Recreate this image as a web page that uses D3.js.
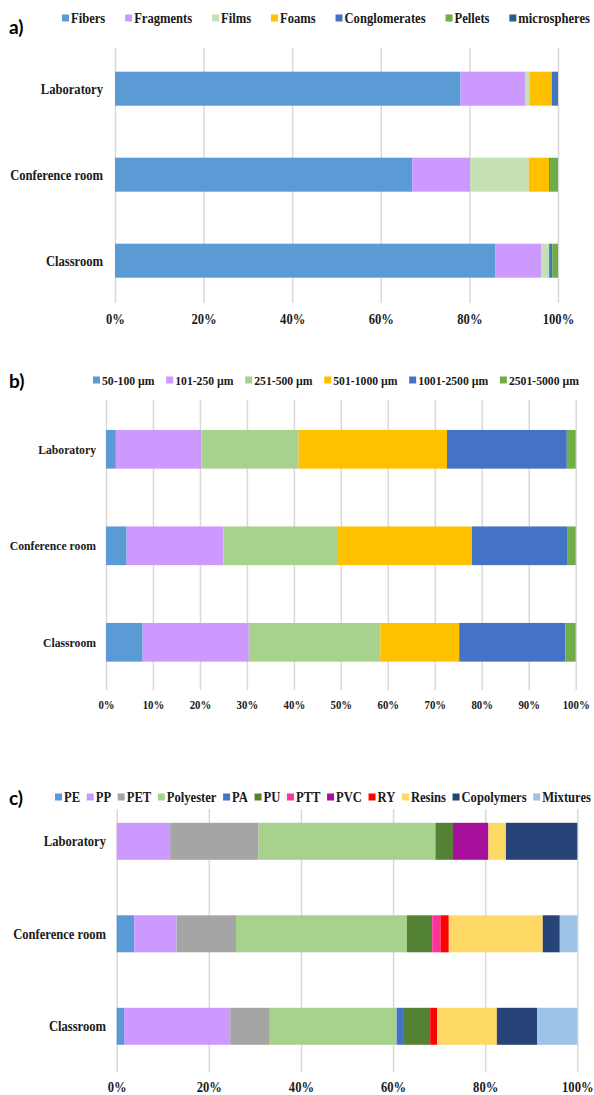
<!DOCTYPE html>
<html>
<head>
<meta charset="utf-8">
<script src="https://cdn.jsdelivr.net/npm/d3@7"></script>
<style>
  body { margin: 0; background: #fff; }
  .serif { font-family: "Liberation Serif", "Times New Roman", Times, serif; font-weight: bold; fill: #1a1a1a; }
  .panel-tag { font-family: Lato, "Open Sans", sans-serif; font-weight: bold; fill: #000; }
</style>
</head>
<body>
<div id="chart"></div>
<script>
// rooms, same order in all three panels (top to bottom)
var rooms = ["Laboratory", "Conference room", "Classroom"];

// a) shapes, % of particles
var shapeKeys = ["Fibers", "Fragments", "Films", "Foams", "Conglomerates", "Pellets", "microspheres"];
var shapeColors = ["#5b9bd5", "#cc99ff", "#c5e0b4", "#ffc000", "#4472c4", "#70ad47", "#255e91"];
var shapeLab   = [78.0, 14.6, 1.0, 5.0, 1.4, 0.0, 0.0];
var shapeConf  = [67.1, 13.1, 13.2, 4.6, 0.2, 1.7, 0.1];
var shapeClass = [85.8, 10.4, 1.8, 0.0, 0.7, 1.2, 0.1];

// b) size classes
var sizeKeys = ["50-100 µm", "101-250 µm", "251-500 µm", "501-1000 µm", "1001-2500 µm", "2501-5000 µm"];
var sizeColors = ["#5b9bd5", "#cc99ff", "#a9d18e", "#ffc000", "#4472c4", "#70ad47"];
var sizeLab   = [2.1, 18.2, 20.7, 31.6, 25.5, 1.9];
var sizeConf  = [4.4, 20.6, 24.4, 28.5, 20.4, 1.7];
var sizeClass = [7.8, 22.6, 28.0, 16.8, 22.6, 2.2];

// c) polymer types
var polyKeys = ["PE", "PP", "PET", "Polyester", "PA", "PU", "PTT", "PVC", "RY", "Resins", "Copolymers", "Mixtures"];
var polyColors = ["#5b9bd5", "#cc99ff", "#a5a5a5", "#a9d18e", "#4472c4", "#548235", "#ff3399", "#a50f9a", "#ff0000", "#ffd966", "#264478", "#9dc3e6"];
var polyLab   = [0.0, 11.6, 19.2, 38.4, 0.0, 3.8, 0.0, 7.7, 0.0, 3.8, 15.5, 0.0];
var polyConf  = [3.8, 9.2, 12.9, 37.1, 0.0, 5.5, 1.8, 0.0, 1.8, 20.4, 3.7, 3.8];
var polyClass = [1.6, 23.1, 8.6, 27.6, 1.4, 5.9, 0.0, 0.0, 1.5, 13.0, 8.8, 8.7];

var pctTicksA = [0, 0.2, 0.4, 0.6, 0.8, 1];
var pctTicksB = [0, 0.1, 0.2, 0.3, 0.4, 0.5, 0.6, 0.7, 0.8, 0.9, 1];

var W = 594, H = 1095;
var SX = 0.9; // the original text is a little condensed

var svg = d3.select("#chart").append("svg")
  .attr("width", W)
  .attr("height", H);

// turn the per-room arrays into rows d3.stack can use
function toRows(keys, lists) {
  return rooms.map(function(room, i) {
    var row = { room: room };
    keys.forEach(function(k, j) { row[k] = lists[i][j]; });
    return row;
  });
}

var panels = [
  { tag: "a)", keys: shapeKeys, colors: shapeColors, rows: toRows(shapeKeys, [shapeLab, shapeConf, shapeClass]),
    ticks: pctTicksA, tagY: 34, legendY: 18, legendX0: 62, legendX1: 590, legendFont: 14,
    x0: 115, x1: 558, gridTop: 48, gridBottom: 303, c0: 88.7, step: 86, barH: 34, tickY: 319, catX: 103, catFont: 14, tickFont: 14 },
  { tag: "b)", keys: sizeKeys, colors: sizeColors, rows: toRows(sizeKeys, [sizeLab, sizeConf, sizeClass]),
    ticks: pctTicksB, tagY: 388, legendY: 380, legendX0: 93, legendX1: 579, legendFont: 13,
    x0: 106, x1: 575.7, gridTop: 400, gridBottom: 690, c0: 449.3, step: 96.5, barH: 38.7, tickY: 705, catX: 96, catFont: 13, tickFont: 12 },
  { tag: "c)", keys: polyKeys, colors: polyColors, rows: toRows(polyKeys, [polyLab, polyConf, polyClass]),
    ticks: pctTicksA, tagY: 805, legendY: 797, legendX0: 55, legendX1: 591, legendFont: 14,
    x0: 116.7, x1: 577.3, gridTop: 809, gridBottom: 1072, c0: 841.3, step: 92.5, barH: 37, tickY: 1087, catX: 106, catFont: 14, tickFont: 14 }
];

panels.forEach(drawPanel);

function drawPanel(p) {
  var g = svg.append("g");

  var x = d3.scaleLinear().domain([0, 1]).range([p.x0, p.x1]);
  var pad = 1 - p.barH / p.step;
  var y = d3.scaleBand()
    .domain(rooms)
    .range([p.c0 - p.step / 2, p.c0 + p.step * 2.5])
    .paddingInner(pad)
    .paddingOuter(pad / 2);
  var color = d3.scaleOrdinal().domain(p.keys).range(p.colors);

  // vertical gridlines
  var grid = g.append("g")
    .attr("transform", "translate(0," + p.gridBottom + ")")
    .call(d3.axisBottom(x).tickValues(p.ticks).tickSize(-(p.gridBottom - p.gridTop)).tickFormat(""));
  grid.select(".domain").remove();
  grid.selectAll("line").attr("stroke", "#d9d9d9").attr("stroke-width", 1.5);

  // 100% stacked bars
  var series = d3.stack().keys(p.keys).offset(d3.stackOffsetExpand)(p.rows);
  g.append("g").selectAll("g")
    .data(series)
    .join("g")
      .attr("fill", function(d) { return color(d.key); })
    .selectAll("rect")
    .data(function(d) { return d; })
    .join("rect")
      .attr("x", function(d) { return x(d[0]); })
      .attr("width", function(d) { return Math.max(0, x(d[1]) - x(d[0])); })
      .attr("y", function(d) { return y(d.data.room); })
      .attr("height", y.bandwidth());

  // % tick labels
  var ax = g.append("g")
    .attr("transform", "translate(0," + p.tickY + ")")
    .call(d3.axisBottom(x).tickValues(p.ticks).tickSize(0).tickPadding(0).tickFormat(d3.format(".0%")));
  ax.select(".domain").remove();
  ax.attr("font-family", null).attr("font-size", null);
  ax.selectAll("text")
    .attr("class", "serif")
    .attr("y", 0)
    .attr("dy", "0.35em")
    .attr("fill", null)
    .attr("transform", "scale(" + SX + ",1)")
    .style("font-size", p.tickFont + "px");

  // room labels
  g.append("g").selectAll("text")
    .data(rooms)
    .join("text")
      .attr("class", "serif")
      .attr("transform", function(d) {
        return "translate(" + p.catX + "," + (y(d) + y.bandwidth() / 2) + ") scale(" + SX + ",1)";
      })
      .attr("dy", "0.35em")
      .attr("text-anchor", "end")
      .style("font-size", p.catFont + "px")
      .text(function(d) { return d; });

  // panel letter
  g.append("text")
    .attr("class", "panel-tag")
    .attr("x", 9)
    .attr("y", p.tagY)
    .style("font-size", "19px")
    .text(p.tag);

  // legend: squares + names spread evenly between legendX0 and legendX1
  var sq = 7, gapIn = 2;
  var items = g.append("g").selectAll("g")
    .data(p.keys)
    .join("g");
  items.append("rect")
    .attr("width", sq)
    .attr("height", sq)
    .attr("y", p.legendY - sq / 2)
    .attr("fill", function(d) { return color(d); });
  items.append("text")
    .attr("class", "serif")
    .attr("dy", "0.35em")
    .style("font-size", p.legendFont + "px")
    .text(function(d) { return d; });

  var widths = [];
  items.each(function() {
    widths.push(sq + gapIn + SX * d3.select(this).select("text").node().getComputedTextLength());
  });
  var gap = (p.legendX1 - p.legendX0 - d3.sum(widths)) / (p.keys.length - 1);
  var cx = p.legendX0;
  items.each(function(d, i) {
    var it = d3.select(this);
    it.select("rect").attr("x", cx);
    it.select("text").attr("transform", "translate(" + (cx + sq + gapIn) + "," + p.legendY + ") scale(" + SX + ",1)");
    cx += widths[i] + gap;
  });
}
</script>
</body>
</html>
